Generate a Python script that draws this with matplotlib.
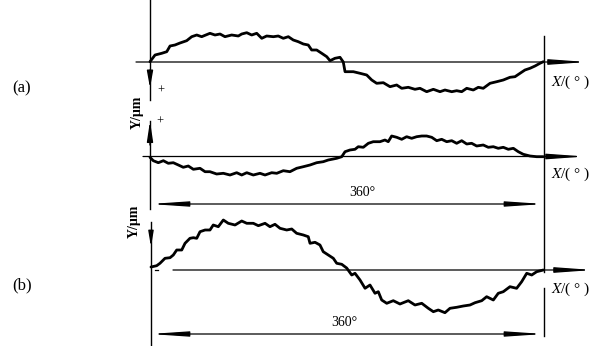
import matplotlib
matplotlib.use('Agg')
import matplotlib.pyplot as plt
from matplotlib.patches import FancyArrowPatch

plt.rcParams['font.family'] = ['Liberation Serif', 'DejaVu Serif']
plt.rcParams['mathtext.fontset'] = 'stix'

# (a) upper trace: angle in degrees, deviation (um, arbitrary scale)
a_top_deg = [0, 4.6, 10.7, 15.3, 18.3, 22.8, 27.4, 33.5, 38.1, 42.7, 47.2, 54.8, 59.4, 64, 68.5,
             74.6, 80.7, 83.8, 88.4, 92.9, 97.5, 102.1, 106.6, 112.7, 117.2, 121.8, 126.4, 130.9,
             135.5, 140.1, 144.6, 147.7, 152.3, 156.9, 161.5, 164.5, 169, 173.6, 176.6, 178.2,
             185.8, 191.9, 198, 202.6, 207.1, 213.2, 219.3, 225.4, 230, 236, 242.1, 246.7, 252.8,
             258.9, 265, 269.5, 275.7, 280.2, 284.8, 289.4, 295.4, 300, 304.5, 310.7, 316.8,
             322.8, 328.9, 333.5, 338.1, 342.6, 347.2, 351.8, 356.3, 359.4]
a_top_dev = [0.3, 7, 8.7, 10.3, 16, 17, 19, 21.3, 25.3, 27, 25.3, 28.7, 27, 28, 25.3,
             27, 26, 28, 29.3, 27, 28.7, 23.7, 26, 25.3, 26, 23.7, 25.3, 22,
             20.3, 18, 17, 12, 12, 8.7, 5.3, 1.3, 3.7, 4.7, 0, -9.7,
             -9.7, -11.3, -13, -18, -21.3, -20.7, -24.7, -23, -26.3, -25.3, -27.3, -26.3, -29.7,
             -27.3, -29.7, -28, -29.7, -28.7, -29.7, -26.3, -28, -25.3, -26.3, -21.3, -19.7,
             -18, -15.3, -14.7, -11.3, -8, -6.3, -4, -1.3, 0.3]

# (a) lower trace
a_bot_deg = [0, 3, 7.6, 12.2, 16.7, 21.3, 25.9, 30.4, 35, 39.6, 45.7, 50.3, 54.8, 60.9, 67,
             73.1, 79.2, 83.8, 88.4, 94.4, 100.5, 105.1, 111.2, 115.8, 121.8, 127.9, 134, 140.1,
             146.2, 152.3, 158.3, 162.9, 167.5, 170.6, 175.2, 178.2, 182.7, 187.3, 190.3, 194.9,
             199.5, 204, 210.1, 214.7, 217.7, 220.8, 225.4, 230, 234.5, 239.1, 243.7, 248.3,
             252.8, 257.4, 262, 266.5, 271.1, 275.7, 280.2, 284.8, 289.4, 293.9, 298.5, 304.5,
             309.1, 313.7, 318.2, 322.8, 327.4, 332, 336.5, 341.1, 347.2, 353.3, 359.4]
a_bot_dev = [-0.8, -4.2, -6.2, -4.2, -6.8, -6.2, -8.5, -10.8, -9.5, -12.8, -11.8, -15.2, -15.2, -17.5, -16.8,
             -18.5, -16.2, -18.5, -16.2, -18.5, -16.8, -18.5, -16.2, -16.8, -14.2, -15.2, -11.8, -10.2,
             -8.5, -6.2, -5.2, -3.5, -2.5, -1.8, -0.2, 4.8, 6.5, 7.2, 9.8, 9.2,
             13.2, 14.8, 14.8, 16.5, 14.8, 20.5, 19.2, 17.2, 19.8, 18.2, 19.8, 20.5,
             20.5, 19.2, 15.8, 17.2, 14.8, 15.8, 13.2, 15.8, 12.5, 13.2, 10.5, 11.5,
             9.2, 9.8, 8.2, 9.2, 7.2, 8.2, 4.8, 2.2, 0.5, -0.2, -0.2]

# (b) trace
b_deg = [0.9, 6.1, 9.1, 13.7, 18.3, 21.3, 24.4, 29, 32, 36.5, 39.6, 42.7, 45.7, 50.3, 54.8,
         57.8, 62.4, 67, 71.5, 77.7, 83.8, 88.4, 94.4, 99, 105.1, 109.6, 114.2, 118.8, 124.9,
         129.5, 134, 140.1, 144.6, 146.2, 150.8, 155.3, 158.3, 162.9, 167.5, 170.6, 175.2,
         179.7, 184.3, 187.3, 191.9, 196.5, 201, 205.6, 208.6, 211.7, 216.3, 222.3, 228.4,
         236, 242.1, 248.3, 254.3, 258.9, 263.4, 269.5, 274.1, 280.2, 286.3, 292.4, 297,
         303.1, 307.6, 313.7, 318.2, 322.8, 328.9, 335, 339.6, 344.2, 348.8, 353.3, 359.4]
b_dev = [3, 4.3, 6.7, 11.7, 12.3, 15, 20, 20, 26.7, 31.7, 32.3, 31.7, 38.3, 40, 40,
         45, 43.3, 50, 46.7, 45, 49, 46.7, 46.7, 44.3, 46.7, 43.3, 45.7, 41.7, 40,
         41, 36.7, 35, 33.3, 26.7, 27.7, 25, 18.3, 15, 11.7, 6.7, 5.7,
         2, -5, -3.3, -10, -18.3, -15, -23.3, -21.7, -30, -33.3, -30.7, -34,
         -30.7, -35, -33.3, -38.3, -41.7, -40, -42.7, -38.3, -37.3, -36, -35, -32.7,
         -30.7, -26.7, -30, -23.3, -21.7, -16.7, -18.3, -11.7, -3.3, -5, -1.7, 0]

base_a_top = 62
base_a_bot = 156.5
base_b = 270

fig = plt.figure(figsize=(6, 3.46), dpi=100)
ax = fig.add_axes([0, 0, 1, 1])
ax.set_xlim(-137.06, 411.17)
ax.set_ylim(346, 0)
ax.axis('off')


def arrow(x0, y0, x1, y1, hl=22, hw=1.6, lw=0.9, style='-|>'):
    ax.add_patch(FancyArrowPatch((x0, y0), (x1, y1),
                                 arrowstyle='{},head_length={},head_width={}'.format(style, hl, hw),
                                 mutation_scale=1, lw=lw, color='k', shrinkA=0, shrinkB=0))


# traces
for deg, dev, base in [(a_top_deg, a_top_dev, base_a_top),
                       (a_bot_deg, a_bot_dev, base_a_bot),
                       (b_deg, b_dev, base_b)]:
    ax.plot(deg, [base - d for d in dev], color='k', lw=2.0,
            solid_joinstyle='round', solid_capstyle='round')

# X axes
arrow(-12.8, base_a_top, 399.3, base_a_top)
arrow(-6.4, base_a_bot, 397.5, base_a_bot)
arrow(21, base_b, 404.8, base_b)
ax.plot([4.6, 7.3], [base_b, base_b], color='k', lw=0.9)

# right end line at 360 deg
ax.plot([360, 360], [36, 272], color='k', lw=1.0)
ax.plot([360, 360], [288, 336], color='k', lw=1.0)

# 360 deg dimension lines
arrow(0, 204, 360, 204, hl=22, hw=1.5, style='<|-|>')
arrow(0, 334, 360, 334, hl=22, hw=1.5, style='<|-|>')

# Y axes
ax.plot([0, 0], [0, 100], color='k', lw=1.0)
arrow(0, 70, 0, 88, hl=10, hw=1.8, lw=1.0)
ax.plot([0, 0], [121, 209], color='k', lw=1.0)
arrow(0, 145, 0, 121, hl=12, hw=1.8, lw=1.0)
ax.plot([0.9, 0.9], [222, 346], color='k', lw=1.0)
arrow(0.9, 232, 0.9, 247, hl=9, hw=1.5, lw=1.0)

# labels
ax.text(-117, 88, '(a)', ha='center', va='center', fontsize=12)
ax.text(-117, 285, '(b)', ha='center', va='center', fontsize=12)
ax.text(-11.9, 112, 'Y/μm', rotation=90, fontweight='bold', fontsize=10, ha='center', va='center')
ax.text(-14.6, 221, 'Y/μm', rotation=90, fontweight='bold', fontsize=10, ha='center', va='center')
ax.text(10, 91, '+', fontsize=9, ha='center', va='center')
ax.text(9.1, 122, '+', fontsize=9, ha='center', va='center')
for row in [82, 174, 289]:
    ax.text(384.7, row, r'$X$/( ° )', fontsize=11, ha='center', va='center')
ax.text(193.7, 192, '360°', fontsize=10, ha='center', va='center')
ax.text(177.3, 322, '360°', fontsize=10, ha='center', va='center')

fig.savefig('out.png', dpi=100)
